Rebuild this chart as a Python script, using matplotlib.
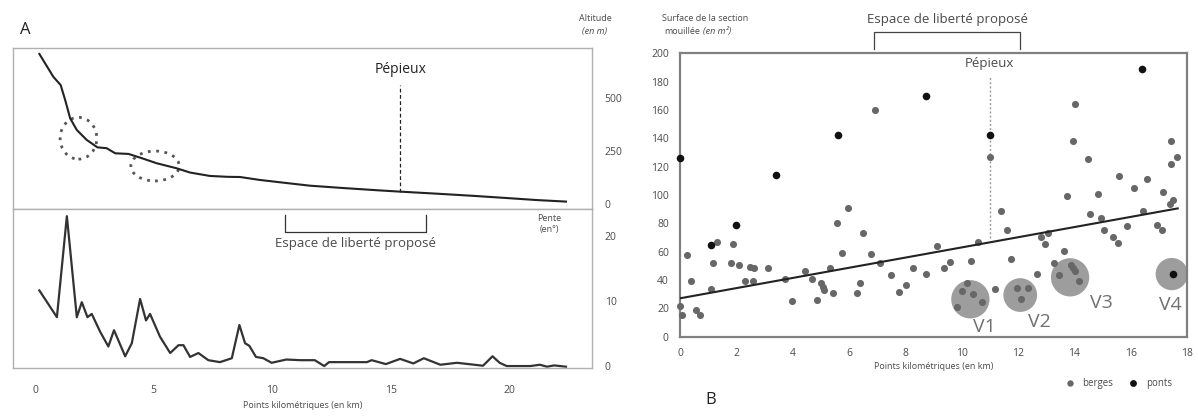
import matplotlib
matplotlib.use("Agg")
import matplotlib.pyplot as plt
from matplotlib.patches import Ellipse

plt.rcParams['font.family'] = ['Open Sans', 'DejaVu Sans']

# --- A: longitudinal profile (altitude, m) ---
km_alt = [0.18, 0.77, 1.08, 1.27, 1.48, 1.76, 2.18, 2.63, 3.02, 3.38, 3.94, 4.5, 5.13,
          5.98, 6.54, 7.38, 8.1, 8.65, 9.49, 10.5, 11.6, 13.0, 14.5, 15.4, 17.0, 18.5,
          20.0, 21.2, 22.4]
altitude = [708, 600, 561, 490, 404, 349, 302, 267, 263, 239, 236, 216, 192,
            168, 148, 132, 128, 127, 113, 100, 86, 75, 64, 58, 48, 38,
            27, 18, 11]

# --- A: slope (degrees) ---
km_slope = [0.18, 0.92, 1.34, 1.76, 1.97, 2.21, 2.39, 2.74, 3.09, 3.33, 3.8, 4.08, 4.43,
            4.68, 4.85, 5.27, 5.7, 6.05, 6.26, 6.54, 6.89, 7.31, 7.8, 8.3, 8.62, 8.86,
            9.04, 9.32, 9.63, 9.98, 10.6, 11.2, 11.8, 12.2, 12.4, 14.0, 14.2, 14.8, 15.4,
            15.96, 16.4, 17.1, 17.8, 18.9, 19.3, 19.6, 19.9, 20.9, 21.3, 21.6, 21.9, 22.4]
slope = [11.6, 7.5, 23.0, 7.5, 9.8, 7.5, 8.0, 5.3, 3.0, 5.5, 1.5, 3.5, 10.3,
         7.0, 8.0, 4.5, 2.0, 3.2, 3.2, 1.4, 2.0, 0.9, 0.6, 1.2, 6.3, 3.5,
         3.1, 1.4, 1.2, 0.5, 1.0, 0.9, 0.9, 0.0, 0.6, 0.6, 0.9, 0.3, 1.1,
         0.4, 1.2, 0.2, 0.5, 0.05, 1.5, 0.5, 0.0, 0.0, 0.2, -0.1, 0.1, -0.1]

pepieux_left_km = 15.4
espace_left = [10.55, 16.5]
circles_km = [1.83, 5.06]
circles_alt = [310, 179]
circles_w = [1.55, 2.04]
circles_h = [197, 141]

# --- B: wetted cross-section area (m2) ---
berges_km = [0.26, 0.38, 0.0, 0.06, 0.57, 0.71, 1.09, 1.18, 1.32, 1.81, 1.89, 2.1, 2.3,
             2.48, 2.58, 2.62, 3.13, 3.72, 3.98, 4.43, 4.7, 4.85, 4.99, 5.06, 5.11, 5.32,
             5.44, 5.58, 5.74, 5.97, 6.3, 6.38, 6.5, 6.77, 6.91, 7.09, 7.5, 7.78, 8.04,
             8.27, 8.75, 9.13, 9.37, 9.57, 10.32, 10.58, 11.0, 11.17, 11.38, 11.62, 11.74,
             12.66, 12.82, 12.97, 13.06, 13.29, 13.63, 13.75, 13.97, 14.04, 14.5, 14.56,
             14.83, 14.95, 15.07, 15.37, 15.54, 15.58, 15.86, 16.11, 16.45, 16.58, 16.94,
             17.1, 17.16, 17.38, 17.43, 17.43, 17.49, 17.63,
             10.2, 10.02, 10.4, 10.72, 9.83, 11.96, 12.35, 12.09, 13.44, 13.89, 13.97,
             14.03, 14.18]
berges_area = [58, 39.5, 21.7, 15.3, 18.8, 15.3, 33.4, 52.2, 67, 52.2, 65.4, 50.6, 39.5,
               49.4, 39.5, 48.5, 48.5, 41, 25.2, 46.4, 40.5, 25.9, 37.7, 34.9, 33, 48.5,
               31.1, 80.5, 58.8, 90.6, 31.1, 38.1, 73, 58.1, 160, 52.2, 43.5, 31.8, 36.5,
               48.5, 44.2, 64.2, 48.3, 52.5, 53.6, 67, 127, 33.4, 89, 75.3, 54.6,
               44.2, 70.6, 65.4, 73, 52.2, 60.5, 99.5, 138.4, 164.2, 125.2, 86.6,
               100.7, 83.5, 75.3, 70.6, 65.9, 113.4, 78.1, 104.7, 88.9, 111.1, 78.8,
               75.3, 102.3, 94, 121.9, 138.1, 96.5, 127,
               38.1, 32.5, 30.1, 24.7, 21.2, 34.2, 34.2, 26.6, 43.5, 50.6, 48.3,
               46.6, 39.5]
ponts_km = [0.0, 1.1, 2.0, 3.4, 5.6, 8.75, 11.0, 16.4, 17.5]
ponts_area = [126, 65, 79, 114, 142, 170, 142, 189, 44.5]

trend_intercept = 27.1
trend_slope = 3.59
trend_km = [0.0, 17.67]

zone_labels = ['V1', 'V2', 'V3', 'V4']
zone_km = [10.31, 12.08, 13.85, 17.46]
zone_area = [26.4, 29.4, 41.9, 44.2]
zone_label_km = [10.8, 12.77, 14.95, 17.4]
zone_label_area = [7, 10.6, 23.6, 22.4]

pepieux_right_km = 11.0
espace_right = [6.9, 12.06]

TXT = '#4a4a4a'
fig = plt.figure(figsize=(11.98, 4.19), dpi=100)

# ---------------- Panel A ----------------
ax1 = fig.add_axes([0.0109, 0.5012, 0.4833, 0.3842])
ax2 = fig.add_axes([0.0109, 0.1217, 0.4833, 0.3795])
for ax in (ax1, ax2):
    for s in ax.spines.values():
        s.set_color('#b0b0b0')
        s.set_linewidth(1.0)
    ax.set_xlim(-0.93, 23.5)
    ax.yaxis.tick_right()
    ax.tick_params(length=0, labelsize=7.5, labelcolor=TXT, pad=9)

ax1.plot(km_alt, altitude, color='#222222', lw=1.5)
ax1.set_ylim(-24, 736)
ax1.set_yticks([0, 250, 500])
ax1.set_xticks([])
for cx, cy, w, h in zip(circles_km, circles_alt, circles_w, circles_h):
    ax1.add_patch(Ellipse((cx, cy), w, h, fill=False, ec='#555555', lw=2, ls=(0, (1, 2))))
ax1.plot([pepieux_left_km, pepieux_left_km], [58, 560], color='#222222', lw=0.9, ls=(0, (3, 2)))
ax1.text(pepieux_left_km, 600, 'Pépieux', ha='center', va='bottom', fontsize=10, color='#222222')
fig.text(0.4967, 0.957, 'Altitude', ha='center', va='center', fontsize=6.5, color=TXT)
fig.text(0.4967, 0.926, '(en m)', ha='center', va='center', fontsize=6.5, color=TXT,
         style='italic')
fig.text(0.017, 0.92, 'A', fontsize=12, color='#222222')

ax2.plot(km_slope, slope, color='#333333', lw=1.6)
ax2.set_ylim(-0.3, 24.1)
ax2.set_yticks([0, 10, 20])
ax2.set_xticks([0, 5, 10, 15, 20])
ax2.tick_params(axis='x', pad=12)
ax2.plot([espace_left[0], espace_left[0], espace_left[1], espace_left[1]],
         [23.2, 20.5, 20.5, 23.2], color='#333333', lw=0.9)
ax2.text(sum(espace_left) / 2, 19.8, 'Espace de liberté proposé', ha='center', va='top',
         fontsize=9.5, color=TXT)
ax2.text(21.7, 23.3, 'Pente\n(en°)', ha='center', va='top', fontsize=6.5, color=TXT)
ax2.set_xlabel('Points kilométriques (en km)', fontsize=6.5, color=TXT, labelpad=4)

# ---------------- Panel B ----------------
ax3 = fig.add_axes([0.5676, 0.1964, 0.4232, 0.6764])
for s in ax3.spines.values():
    s.set_color('#808080')
    s.set_linewidth(1.6)
ax3.set_xlim(0, 18)
ax3.set_ylim(0, 200)
ax3.set_xticks(range(0, 19, 2))
ax3.set_yticks(range(0, 201, 20))
ax3.tick_params(length=0, labelsize=7.5, labelcolor=TXT, pad=8)

ax3.scatter(zone_km, zone_area, s=[760, 590, 760, 540], color='#8c8c8c', alpha=0.85,
            lw=0, zorder=2)
ax3.scatter(berges_km, berges_area, s=26, color='#676767', lw=0, zorder=3, label='berges',
            clip_on=False)
ax3.scatter(ponts_km, ponts_area, s=30, color='#111111', lw=0, zorder=4, label='ponts',
            clip_on=False)
ax3.plot(trend_km, [trend_intercept + trend_slope * k for k in trend_km], color='#222222',
         lw=1.5, zorder=3)
for lab, x, y in zip(zone_labels, zone_label_km, zone_label_area):
    ax3.text(x, y, lab, ha='center', va='center', fontsize=14, color='#707070', zorder=5)

ax3.plot([pepieux_right_km, pepieux_right_km], [70, 184], color='#999999', lw=1.0,
         ls=(0, (1.5, 1.5)), zorder=1)
ax3.text(pepieux_right_km, 188, 'Pépieux', ha='center', va='bottom', fontsize=9.5, color=TXT)
ax3.plot([espace_right[0], espace_right[0], espace_right[1], espace_right[1]],
         [203, 215, 215, 203], color='#444444', lw=0.9, clip_on=False)
ax3.text(sum(espace_right) / 2, 219, 'Espace de liberté proposé', ha='center', va='bottom',
         fontsize=9.5, color=TXT)
fig.text(0.5885, 0.957, 'Surface de la section', ha='center', va='center', fontsize=6.5,
         color=TXT)
fig.text(0.5843, 0.924, 'mouillée', ha='right', va='center', fontsize=6.5, color=TXT)
fig.text(0.5868, 0.924, '(en m²)', ha='left', va='center', fontsize=6.5, color=TXT,
         style='italic')
ax3.set_xlabel('Points kilométriques (en km)', fontsize=6.5, color=TXT, labelpad=2)
ax3.legend(loc='center', bbox_to_anchor=(0.86, -0.165), ncol=2, frameon=False, fontsize=7,
           labelcolor=TXT, handletextpad=0.3, columnspacing=1.0, markerscale=0.9)
fig.text(0.589, 0.035, 'B', fontsize=12, color='#222222')

fig.savefig('out.png', dpi=100)
